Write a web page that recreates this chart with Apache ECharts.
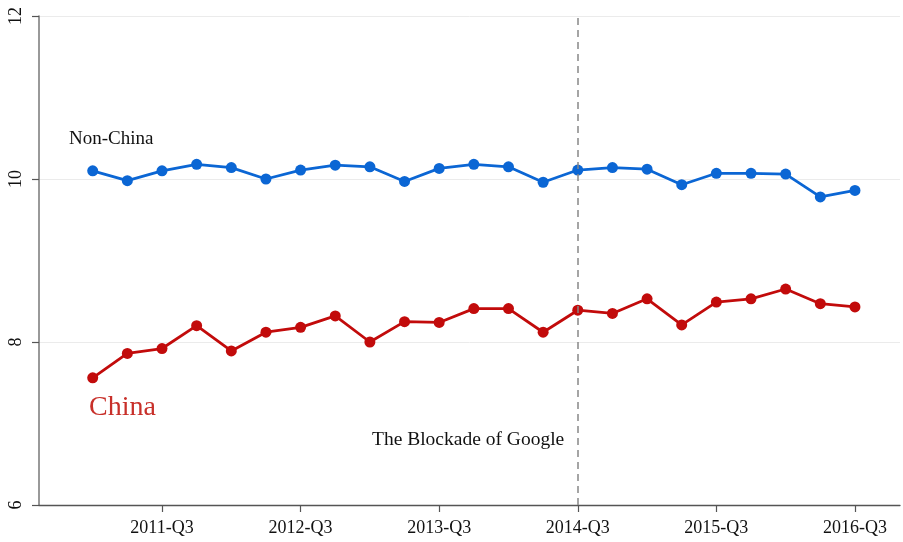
<!DOCTYPE html>
<html>
<head>
<meta charset="utf-8">
<script src="https://cdn.jsdelivr.net/npm/echarts@6/dist/echarts.min.js"></script>
<style>html,body{margin:0;padding:0;background:#fff}#c{width:903px;height:542px}</style>
</head>
<body>
<div id="c"></div>
<script>
var quarters = ["2011-Q1","2011-Q2","2011-Q3","2011-Q4","2012-Q1","2012-Q2","2012-Q3","2012-Q4",
  "2013-Q1","2013-Q2","2013-Q3","2013-Q4","2014-Q1","2014-Q2","2014-Q3","2014-Q4",
  "2015-Q1","2015-Q2","2015-Q3","2015-Q4","2016-Q1","2016-Q2","2016-Q3"];
var nonChina = [10.10,9.98,10.10,10.18,10.14,10.00,10.11,10.17,10.15,9.97,10.13,10.18,
  10.15,9.96,10.11,10.14,10.12,9.93,10.07,10.07,10.06,9.78,9.86];
var china = [7.56,7.86,7.92,8.20,7.89,8.12,8.18,8.32,8.00,8.25,8.24,8.41,
  8.41,8.12,8.39,8.35,8.53,8.21,8.49,8.53,8.65,8.47,8.43];
var tickLabels = ["2011-Q3","2012-Q3","2013-Q3","2014-Q3","2015-Q3","2016-Q3"];
var yTicks = [6,8,10,12];
var blockadeQuarter = "2014-Q3";

var tickIdx = tickLabels.map(function(t){ return quarters.indexOf(t); });
var font = "'Liberation Serif','DejaVu Serif',serif";
var chart = echarts.init(document.getElementById('c'));
chart.setOption({
  animation: false,
  grid: {left: 39, right: 3, top: 16, bottom: 37, containLabel: false},
  xAxis: {
    type: 'value', min: -1.55, max: 23.3,
    axisLine: {show: true, onZero: false, lineStyle: {color: '#555', width: 1.3}},
    axisTick: {show: true, length: 7, customValues: tickIdx, lineStyle: {color: '#555', width: 1.2}},
    axisLabel: {show: true, customValues: tickIdx, margin: 14, color: '#111', fontFamily: font, fontSize: 18,
      formatter: function(v){ return quarters[Math.round(v)]; }},
    splitLine: {show: false}
  },
  yAxis: {
    type: 'value', min: 6, max: 12, interval: 2,
    axisLine: {show: true, onZero: false, lineStyle: {color: '#777', width: 1.5}},
    axisTick: {show: true, length: 7, customValues: yTicks, lineStyle: {color: '#555', width: 1.2}},
    axisLabel: {show: true, customValues: yTicks, rotate: 90, margin: 14, color: '#111', fontFamily: font, fontSize: 18},
    splitLine: {show: true, lineStyle: {color: '#ebebeb', width: 1}}
  },
  series: [
    {type: 'line', name: 'Non-China', data: nonChina.map(function(v,i){return [i,v];}),
      symbol: 'circle', symbolSize: 11, lineStyle: {color: '#0b66d4', width: 2.8},
      itemStyle: {color: '#0b66d4'}, z: 3,
      markLine: {silent: true, symbol: 'none', label: {show: false},
        lineStyle: {color: '#888', type: [7,5], width: 1.5},
        data: [{xAxis: quarters.indexOf(blockadeQuarter)}]}},
    {type: 'line', name: 'China', data: china.map(function(v,i){return [i,v];}),
      symbol: 'circle', symbolSize: 11, lineStyle: {color: '#c20b0b', width: 2.8},
      itemStyle: {color: '#c20b0b'}, z: 3}
  ],
  graphic: [
    {type: 'text', left: 69, top: 130, style: {text: 'Non-China', fill: '#111', font: '19px ' + font}},
    {type: 'text', left: 89, top: 394, style: {text: 'China', fill: '#c8302a', font: '28px ' + font}},
    {type: 'text', left: 372, top: 430, style: {text: 'The Blockade of Google', fill: '#111', font: '19.5px ' + font}}
  ]
});
</script>
</body>
</html>
